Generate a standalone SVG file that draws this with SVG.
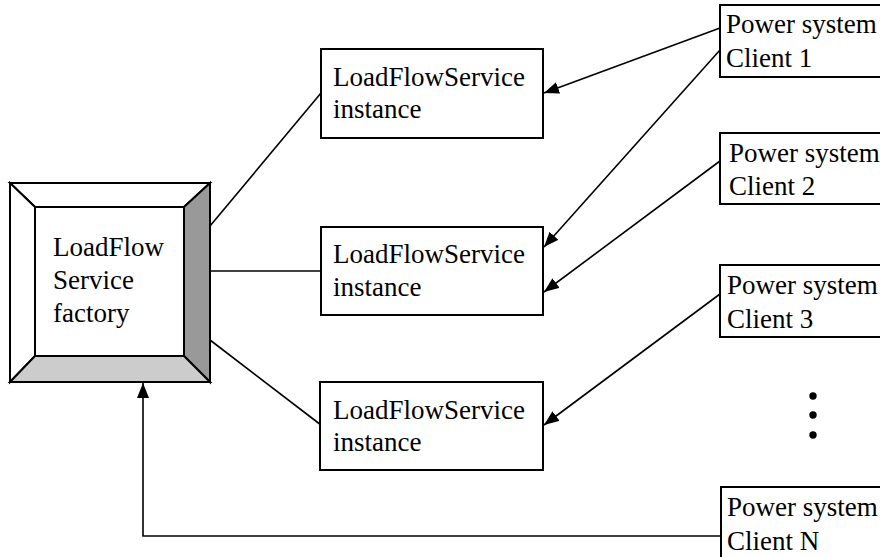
<svg xmlns="http://www.w3.org/2000/svg" width="880" height="557" viewBox="0 0 880 557">
  <style>
    .box { fill: #ffffff; stroke: #000000; stroke-width: 2; }
    .txt { font-size: 27px; fill: #000000; }
    .conn { fill: none; stroke: #000000; stroke-width: 1.6; }
    .bev { stroke: #000000; stroke-width: 2; stroke-linejoin: miter; }
  </style>
  <defs>
    <marker id="arrow" markerUnits="userSpaceOnUse" markerWidth="16" markerHeight="12" refX="15" refY="6" orient="auto">
      <path d="M0,0 L15,6 L0,12 Z" fill="#000000"/>
    </marker>
  </defs>
  <rect width="880" height="557" fill="#ffffff"/>

  <g id="connectors">
    <line class="conn" x1="210" y1="226" x2="321" y2="93"/>
    <line class="conn" x1="210" y1="271" x2="321" y2="271"/>
    <line class="conn" x1="210" y1="340" x2="321" y2="425"/>
    <line class="conn" x1="720" y1="28" x2="544" y2="93" marker-end="url(#arrow)"/>
    <line class="conn" x1="720" y1="50" x2="544" y2="247" marker-end="url(#arrow)"/>
    <line class="conn" x1="720" y1="161" x2="544" y2="292" marker-end="url(#arrow)"/>
    <line class="conn" x1="720" y1="294" x2="544" y2="425" marker-end="url(#arrow)"/>
    <polyline class="conn" points="721,536 143,536 143,383" marker-end="url(#arrow)"/>
  </g>

  <g font-family="Liberation Serif, DejaVu Serif, serif">
  <g id="factory">
    <polygon class="bev" points="10,183 210,183 184,207 35,207" fill="#ffffff"/>
    <polygon class="bev" points="10,183 35,207 35,356 10,382" fill="#ffffff"/>
    <polygon class="bev" points="210,183 210,382 184,356 184,207" fill="#999999"/>
    <polygon class="bev" points="10,382 35,356 184,356 210,382" fill="#cccccc"/>
    <rect x="35" y="207" width="149" height="149" fill="#ffffff" stroke="#000000" stroke-width="2"/>
    <text class="txt" x="53" y="256">LoadFlow</text>
    <text class="txt" x="53" y="289">Service</text>
    <text class="txt" x="53" y="322">factory</text>
  </g>

  <g id="instance1">
    <rect class="box" x="321" y="49" width="222" height="89"/>
    <text class="txt" x="333" y="86">LoadFlowService</text>
    <text class="txt" x="333" y="118">instance</text>
  </g>
  <g id="instance2">
    <rect class="box" x="321" y="227" width="222" height="88"/>
    <text class="txt" x="333" y="263">LoadFlowService</text>
    <text class="txt" x="333" y="296">instance</text>
  </g>
  <g id="instance3">
    <rect class="box" x="320" y="382" width="223" height="88"/>
    <text class="txt" x="333" y="419">LoadFlowService</text>
    <text class="txt" x="333" y="451">instance</text>
  </g>

  <g id="client1">
    <rect class="box" x="720" y="5" width="180" height="72"/>
    <text class="txt" x="726" y="33">Power system</text>
    <text class="txt" x="726" y="67">Client 1</text>
  </g>
  <g id="client2">
    <rect class="box" x="720" y="133" width="180" height="71"/>
    <text class="txt" x="729" y="162">Power system</text>
    <text class="txt" x="729" y="195">Client 2</text>
  </g>
  <g id="client3">
    <rect class="box" x="720" y="265" width="180" height="72"/>
    <text class="txt" x="727" y="294">Power system</text>
    <text class="txt" x="727" y="328">Client 3</text>
  </g>
  <g id="ellipsis">
    <circle cx="813" cy="396" r="3.7" fill="#000000"/>
    <circle cx="813" cy="415" r="3.7" fill="#000000"/>
    <circle cx="813" cy="435" r="3.7" fill="#000000"/>
  </g>
  <g id="clientN">
    <rect class="box" x="721" y="487" width="180" height="80"/>
    <text class="txt" x="727" y="516">Power system</text>
    <text class="txt" x="727" y="550">Client N</text>
  </g>
  </g>
</svg>
